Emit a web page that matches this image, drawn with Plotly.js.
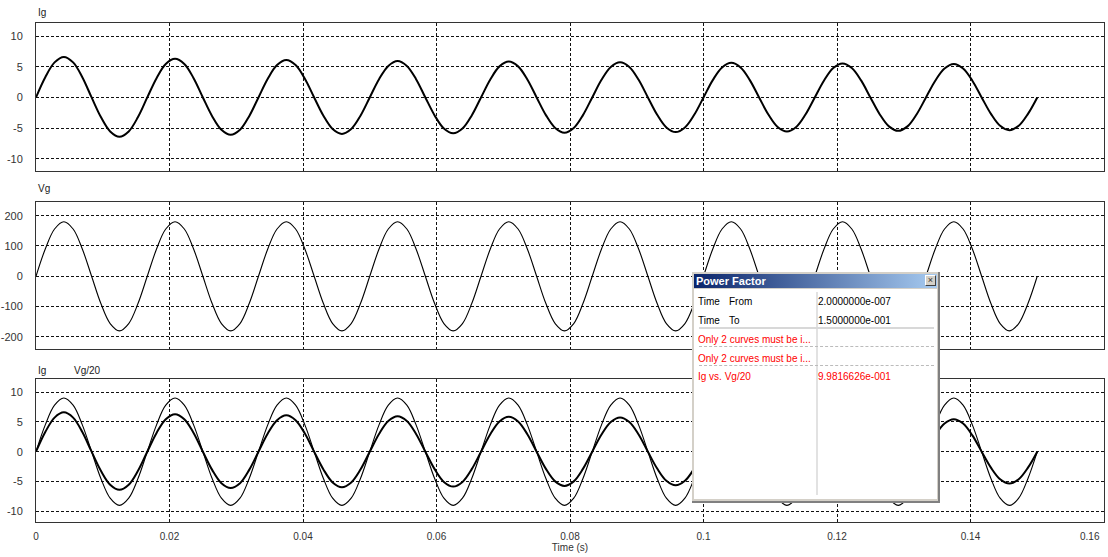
<!DOCTYPE html>
<html>
<head>
<meta charset="utf-8">
<script src="https://cdn.plot.ly/plotly-3.0.1.min.js"></script>
<style>
  html, body { margin: 0; padding: 0; background: #fff; }
  #wrap { position: relative; width: 1108px; height: 557px; overflow: hidden; }
  #chart { position: absolute; left: 0; top: 0; width: 1108px; height: 557px; }
  .dlg { position: absolute; font-family: "Liberation Sans", Arial, sans-serif; font-size: 10px; white-space: nowrap; }
</style>
</head>
<body>
<div id="wrap">
  <div id="chart"></div>
</div>
<script>
// ---- data (samples every 1/12 of a 60 Hz cycle) ----
const time = [
  0, 0.00139, 0.00278, 0.00417, 0.00556, 0.00694, 0.00833, 0.00972, 0.01111, 0.0125, 0.01389, 0.01528,
  0.01667, 0.01806, 0.01944, 0.02083, 0.02222, 0.02361, 0.025, 0.02639, 0.02778, 0.02917, 0.03056, 0.03194,
  0.03333, 0.03472, 0.03611, 0.0375, 0.03889, 0.04028, 0.04167, 0.04306, 0.04444, 0.04583, 0.04722, 0.04861,
  0.05, 0.05139, 0.05278, 0.05417, 0.05556, 0.05694, 0.05833, 0.05972, 0.06111, 0.0625, 0.06389, 0.06528,
  0.06667, 0.06806, 0.06944, 0.07083, 0.07222, 0.07361, 0.075, 0.07639, 0.07778, 0.07917, 0.08056, 0.08194,
  0.08333, 0.08472, 0.08611, 0.0875, 0.08889, 0.09028, 0.09167, 0.09306, 0.09444, 0.09583, 0.09722, 0.09861,
  0.1, 0.10139, 0.10278, 0.10417, 0.10556, 0.10694, 0.10833, 0.10972, 0.11111, 0.1125, 0.11389, 0.11528,
  0.11667, 0.11806, 0.11944, 0.12083, 0.12222, 0.12361, 0.125, 0.12639, 0.12778, 0.12917, 0.13056, 0.13194,
  0.13333, 0.13472, 0.13611, 0.1375, 0.13889, 0.14028, 0.14167, 0.14306, 0.14444, 0.14583, 0.14722, 0.14861,
  0.15
];
const Ig = [
  0, 3.3, 5.72, 6.6, 5.72, 3.3, 0, -3.2, -5.54, -6.4, -5.54, -3.2,
  0, 3.15, 5.46, 6.3, 5.46, 3.15, 0, -3.05, -5.28, -6.1, -5.28, -3.05,
  0, 3.05, 5.28, 6.1, 5.28, 3.05, 0, -2.98, -5.15, -5.95, -5.15, -2.98,
  0, 2.98, 5.15, 5.95, 5.15, 2.98, 0, -2.93, -5.07, -5.85, -5.07, -2.93,
  0, 2.93, 5.07, 5.85, 5.07, 2.93, 0, -2.88, -4.98, -5.75, -4.98, -2.88,
  0, 2.88, 4.98, 5.75, 4.98, 2.88, 0, -2.83, -4.89, -5.65, -4.89, -2.83,
  0, 2.83, 4.89, 5.65, 4.89, 2.83, 0, -2.78, -4.81, -5.55, -4.81, -2.78,
  0, 2.78, 4.81, 5.55, 4.81, 2.78, 0, -2.73, -4.72, -5.45, -4.72, -2.73,
  0, 2.73, 4.72, 5.45, 4.72, 2.73, 0, -2.68, -4.63, -5.35, -4.63, -2.68,
  0
];
const Vg = [
  0, 90, 156, 180, 156, 90, 0, -90, -156, -180, -156, -90,
  0, 90, 156, 180, 156, 90, 0, -90, -156, -180, -156, -90,
  0, 90, 156, 180, 156, 90, 0, -90, -156, -180, -156, -90,
  0, 90, 156, 180, 156, 90, 0, -90, -156, -180, -156, -90,
  0, 90, 156, 180, 156, 90, 0, -90, -156, -180, -156, -90,
  0, 90, 156, 180, 156, 90, 0, -90, -156, -180, -156, -90,
  0, 90, 156, 180, 156, 90, 0, -90, -156, -180, -156, -90,
  0, 90, 156, 180, 156, 90, 0, -90, -156, -180, -156, -90,
  0, 90, 156, 180, 156, 90, 0, -90, -156, -180, -156, -90,
  0
];
const VgScale = 20;
const Vg20 = Vg.map(v => v / VgScale);

const xTickVals = [0, 0.02, 0.04, 0.06, 0.08, 0.1, 0.12, 0.14, 0.16];
const xTickText = ["0", "0.02", "0.04", "0.06", "0.08", "0.1", "0.12", "0.14", "0.16"];
const iTickVals = [-10, -5, 0, 5, 10];
const iTickText = ["-10", "-5", "0", "5", "10"];
const vTickVals = [-200, -100, 0, 100, 200];
const vTickText = ["-200", "-100", "0", "100", "200"];

const panelTitles = ["Ig", "Vg", "Ig", "Vg/20"];

// Power Factor dialog rows
const pfRows = [
  ["Time", "From", "2.0000000e-007"],
  ["Time", "To", "1.5000000e-001"]
];
const pfMsgs = ["Only 2 curves must be i...", "Only 2 curves must be i..."];
const pfResult = ["Ig vs. Vg/20", "9.9816626e-001"];

// ---- chart ----
const FONT = "Liberation Sans, Arial, sans-serif";
const heavy = { color: "#000", width: 2.0, shape: "spline" };
const thin = { color: "#000", width: 1.1, shape: "spline" };

const traces = [
  { x: time, y: Ig, xaxis: "x", yaxis: "y", mode: "lines", line: heavy, name: "Ig" },
  { x: time, y: Vg, xaxis: "x2", yaxis: "y2", mode: "lines", line: thin, name: "Vg" },
  { x: time, y: Vg20, xaxis: "x3", yaxis: "y3", mode: "lines", line: thin, name: "Vg/20" },
  { x: time, y: Ig, xaxis: "x3", yaxis: "y3", mode: "lines", line: heavy, name: "Ig" }
];

// last x label is drawn as an annotation so it can sit inside the page like in the reference
const axisTickText = xTickText.slice(0, -1).concat([""]);

function xAx(anchor, labels) {
  return {
    anchor: anchor, range: [0, 0.16], tickvals: xTickVals, ticktext: axisTickText,
    showticklabels: labels, showgrid: true, gridcolor: "#111", gridwidth: 1, griddash: "3px,2px",
    showline: true, mirror: true, linecolor: "#333", linewidth: 1, zeroline: false, ticks: "",
    tickfont: { family: FONT, size: 10, color: "#333" }, ticklabelstandoff: 5
  };
}
function yAx(anchor, dom, range, vals, text) {
  return {
    anchor: anchor, domain: dom, range: range, tickvals: vals, ticktext: text,
    showgrid: true, gridcolor: "#111", gridwidth: 1, griddash: "3px,2px",
    showline: true, mirror: true, linecolor: "#333", linewidth: 1, zeroline: false, ticks: "",
    tickfont: { family: FONT, size: 11, color: "#333" }, ticklabelstandoff: 10
  };
}

const titleFont = { family: FONT, size: 10, color: "#222" };
const layout = {
  width: 1108, height: 557,
  margin: { l: 36, r: 4, t: 0, b: 0 },
  paper_bgcolor: "#fff", plot_bgcolor: "#fff",
  showlegend: false,
  xaxis: xAx("y", false),
  xaxis2: xAx("y2", false),
  xaxis3: Object.assign(xAx("y3", true), { title: { text: "Time (s)", font: { family: FONT, size: 10, color: "#333" }, standoff: 2 } }),
  yaxis: yAx("x", [0.6930, 0.9582], [-12, 12.1], iTickVals, iTickText),
  yaxis2: yAx("x2", [0.3734, 0.6368], [-240, 244], vTickVals, vTickText),
  yaxis3: yAx("x3", [0.0628, 0.3196], [-11.8, 12.2], iTickVals, iTickText),
  annotations: [
    { text: panelTitles[0], xref: "paper", yref: "paper", x: 0.0, y: 0.9767, xanchor: "left", yanchor: "middle", showarrow: false, font: titleFont },
    { text: panelTitles[1], xref: "paper", yref: "paper", x: 0.0, y: 0.6607, xanchor: "left", yanchor: "middle", showarrow: false, font: titleFont },
    { text: panelTitles[2], xref: "paper", yref: "paper", x: 0.0, y: 0.3357, xanchor: "left", yanchor: "middle", showarrow: false, font: titleFont },
    { text: panelTitles[3], xref: "paper", yref: "paper", x: 0.0336, y: 0.3357, xanchor: "left", yanchor: "middle", showarrow: false, font: titleFont },
    { text: xTickText[xTickText.length - 1], xref: "x3", yref: "paper", x: xTickVals[xTickVals.length - 1], xshift: -2,
      y: 0.0377, xanchor: "right", yanchor: "middle", showarrow: false, font: { family: FONT, size: 10, color: "#333" } }
  ]
};

Plotly.newPlot("chart", traces, layout, { displayModeBar: false, staticPlot: true });

// ---- Power Factor dialog overlay ----
const wrap = document.getElementById("wrap");
function box(css, text) {
  const d = document.createElement("div");
  d.className = "dlg";
  d.style.cssText += css;
  if (text !== undefined) d.textContent = text;
  wrap.appendChild(d);
  return d;
}
// frame
box("left:692px;top:272px;width:246px;height:229px;background:#d4d0c8;border-right:2px solid #808080;border-bottom:2px solid #808080;box-sizing:content-box;");
// title bar
box("left:694px;top:274px;width:243px;height:14px;background:linear-gradient(to right,#0a246a,#a6caf0);");
box("left:696px;top:274px;height:14px;line-height:14px;font-size:11px;font-weight:bold;color:#fff;", "Power Factor");
// close button
box("left:925px;top:275px;width:9px;height:9px;background:#d4d0c8;border:1px solid;border-color:#fff #404040 #404040 #fff;font-size:9px;line-height:9px;text-align:center;color:#333;", "\u00d7");
// body
box("left:694px;top:289px;width:243px;height:210px;background:#fff;");
// column separator
box("left:816px;top:292px;width:2px;height:203px;background:#e2e2e2;");
// solid separator
box("left:699px;top:327px;width:235px;height:2px;background:#d8d8d8;");
// dashed separators
box("left:699px;top:346px;width:235px;height:0;border-top:1px dashed #bbb;");
box("left:699px;top:365px;width:235px;height:0;border-top:1px dashed #bbb;");
// rows
const rowY = [302, 321];
pfRows.forEach((r, i) => {
  box("left:698px;top:" + (rowY[i] - 7) + "px;line-height:14px;color:#000;", r[0]);
  box("left:729px;top:" + (rowY[i] - 7) + "px;line-height:14px;color:#000;", r[1]);
  box("left:818px;top:" + (rowY[i] - 7) + "px;line-height:14px;color:#000;", r[2]);
});
const msgY = [340, 359];
pfMsgs.forEach((m, i) => {
  box("left:698px;top:" + (msgY[i] - 7) + "px;line-height:14px;color:#f00;", m);
});
box("left:698px;top:370px;line-height:14px;color:#f00;", pfResult[0]);
box("left:818px;top:370px;line-height:14px;color:#f00;", pfResult[1]);
</script>
</body>
</html>
